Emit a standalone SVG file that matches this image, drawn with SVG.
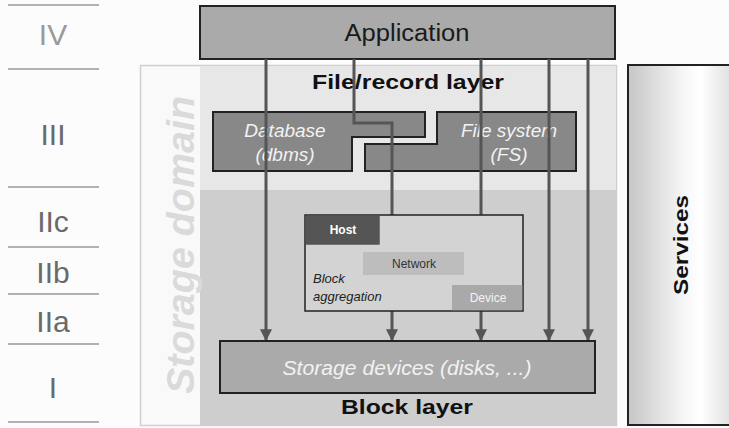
<svg xmlns="http://www.w3.org/2000/svg" width="729" height="428" viewBox="0 0 729 428">
  <defs>
    <linearGradient id="svcGrad" gradientUnits="userSpaceOnUse" x1="628" y1="0" x2="729" y2="0">
      <stop offset="0" stop-color="#c6c6c6"/>
      <stop offset="0.55" stop-color="#f6f6f6"/>
      <stop offset="0.72" stop-color="#ffffff"/>
      <stop offset="1" stop-color="#e2e2e2"/>
    </linearGradient>
    <marker id="arrow" viewBox="0 0 10 10" refX="9" refY="5" markerWidth="4" markerHeight="4" markerUnits="strokeWidth" orient="auto">
      <path d="M0,0 L10,5 L0,10 z" fill="#555"/>
    </marker>
    <style>
      .lvl { font-family: "Liberation Sans", Arial, sans-serif; font-size: 30px; fill: #6a6a6a; text-anchor: middle; }
      .sep { stroke: #999; stroke-width: 1.5; }
      .box { stroke: #222; stroke-width: 2; }
      .flow { fill: none; stroke: #555; stroke-width: 3; marker-end: url(#arrow); }
      .sans { font-family: "Liberation Sans", Arial, sans-serif; }
      .ital { font-style: italic; fill: #f2f2f2; text-anchor: middle; }
      .bold { font-weight: bold; text-anchor: middle; }
    </style>
  </defs>

  <rect x="0" y="0" width="729" height="428" fill="#fcfcfc"/>

  <!-- level scale on the left -->
  <g id="levels">
    <line class="sep" x1="8" y1="5" x2="99" y2="5"/>
    <line class="sep" x1="8" y1="69" x2="99" y2="69"/>
    <line class="sep" x1="8" y1="187" x2="99" y2="187"/>
    <line class="sep" x1="8" y1="247" x2="99" y2="247"/>
    <line class="sep" x1="8" y1="294" x2="99" y2="294"/>
    <line class="sep" x1="8" y1="344" x2="99" y2="344"/>
    <line class="sep" x1="8" y1="422" x2="99" y2="422"/>
    <text class="lvl" x="53" y="45" style="fill:#9a9a9a">IV</text>
    <text class="lvl" x="53" y="145">III</text>
    <text class="lvl" x="53" y="232">IIc</text>
    <text class="lvl" x="53" y="283">IIb</text>
    <text class="lvl" x="53" y="332">IIa</text>
    <text class="lvl" x="53" y="398">I</text>
  </g>

  <!-- storage domain panel with its two layers -->
  <g id="storage-domain">
    <rect x="140.5" y="65.5" width="476" height="360" fill="#f9f9f9" stroke="#cfcfcf" stroke-width="1.5"/>
    <rect x="200" y="66" width="416" height="124" fill="#e7e7e7"/>
    <rect x="200" y="190" width="416" height="235" fill="#cecece"/>
    <text class="sans" x="0" y="0" transform="translate(194,245) rotate(-90)" text-anchor="middle" font-size="38" font-weight="bold" font-style="italic" fill="#dadada" textLength="298" lengthAdjust="spacingAndGlyphs">Storage domain</text>
  </g>

  <g id="file-record-layer">
    <text class="sans bold" x="408" y="89" font-size="21" fill="#111" textLength="192" lengthAdjust="spacingAndGlyphs">File/record layer</text>
  </g>

  <g id="database">
    <path class="box" d="M213,112 H425 V137 H352 V171 H213 Z" fill="#888"/>
    <text class="sans ital" x="285" y="137" font-size="19">Database</text>
    <text class="sans ital" x="285" y="161" font-size="19">(dbms)</text>
  </g>

  <g id="file-system">
    <path class="box" d="M437,112 H576 V171 H365 V144 H437 Z" fill="#888"/>
    <text class="sans ital" x="509" y="137" font-size="19">File system</text>
    <text class="sans ital" x="509" y="161" font-size="19">(FS)</text>
  </g>

  <g id="application">
    <rect class="box" x="200" y="6" width="415" height="53" fill="#aaa"/>
    <text class="sans" x="407" y="41" text-anchor="middle" font-size="23" fill="#1a1a1a" textLength="125" lengthAdjust="spacingAndGlyphs">Application</text>
  </g>

  <!-- data paths from the application down to the storage devices -->
  <g id="connectors">
    <path class="flow" d="M266,59 V340"/>
    <path class="flow" d="M354,59 V123 H392 V340"/>
    <path class="flow" d="M481,59 V340"/>
    <path class="flow" d="M549,59 V340"/>
    <path class="flow" d="M588,59 V340"/>
  </g>

  <g id="block-aggregation">
    <rect x="305" y="215" width="218" height="96" fill="#d3d3d3" stroke="#222" stroke-width="1.5"/>
    <g id="host">
      <rect x="305.75" y="215.75" width="74" height="29" fill="#555"/>
      <text class="sans bold" x="343" y="234" font-size="12" fill="#fff">Host</text>
    </g>
    <g id="network">
      <rect x="363" y="252" width="101" height="23" fill="#bdbdbd"/>
      <text class="sans" x="414" y="268" text-anchor="middle" font-size="12" fill="#333">Network</text>
    </g>
    <g id="device">
      <rect x="452" y="285" width="70.25" height="25.25" fill="#a9a9a9"/>
      <text class="sans" x="488" y="302" text-anchor="middle" font-size="12" fill="#f4f4f4">Device</text>
    </g>
    <text class="sans" x="313" y="283" font-size="13" font-style="italic" fill="#222">Block</text>
    <text class="sans" x="313" y="301" font-size="13" font-style="italic" fill="#222">aggregation</text>
  </g>

  <g id="storage-devices">
    <rect class="box" x="220" y="341" width="375" height="52" fill="#aaa"/>
    <text class="sans ital" x="407" y="375" font-size="20" textLength="249" lengthAdjust="spacingAndGlyphs">Storage devices (disks, ...)</text>
  </g>

  <g id="block-layer">
    <text class="sans bold" x="407" y="414" font-size="20" fill="#111" textLength="132" lengthAdjust="spacingAndGlyphs">Block layer</text>
  </g>

  <g id="services">
    <rect x="628" y="65" width="110" height="360" fill="url(#svcGrad)" stroke="#222" stroke-width="2"/>
    <text class="sans" x="0" y="0" transform="translate(688,245) rotate(-90)" text-anchor="middle" font-size="21" font-weight="bold" fill="#111" textLength="100" lengthAdjust="spacingAndGlyphs">Services</text>
  </g>
</svg>
